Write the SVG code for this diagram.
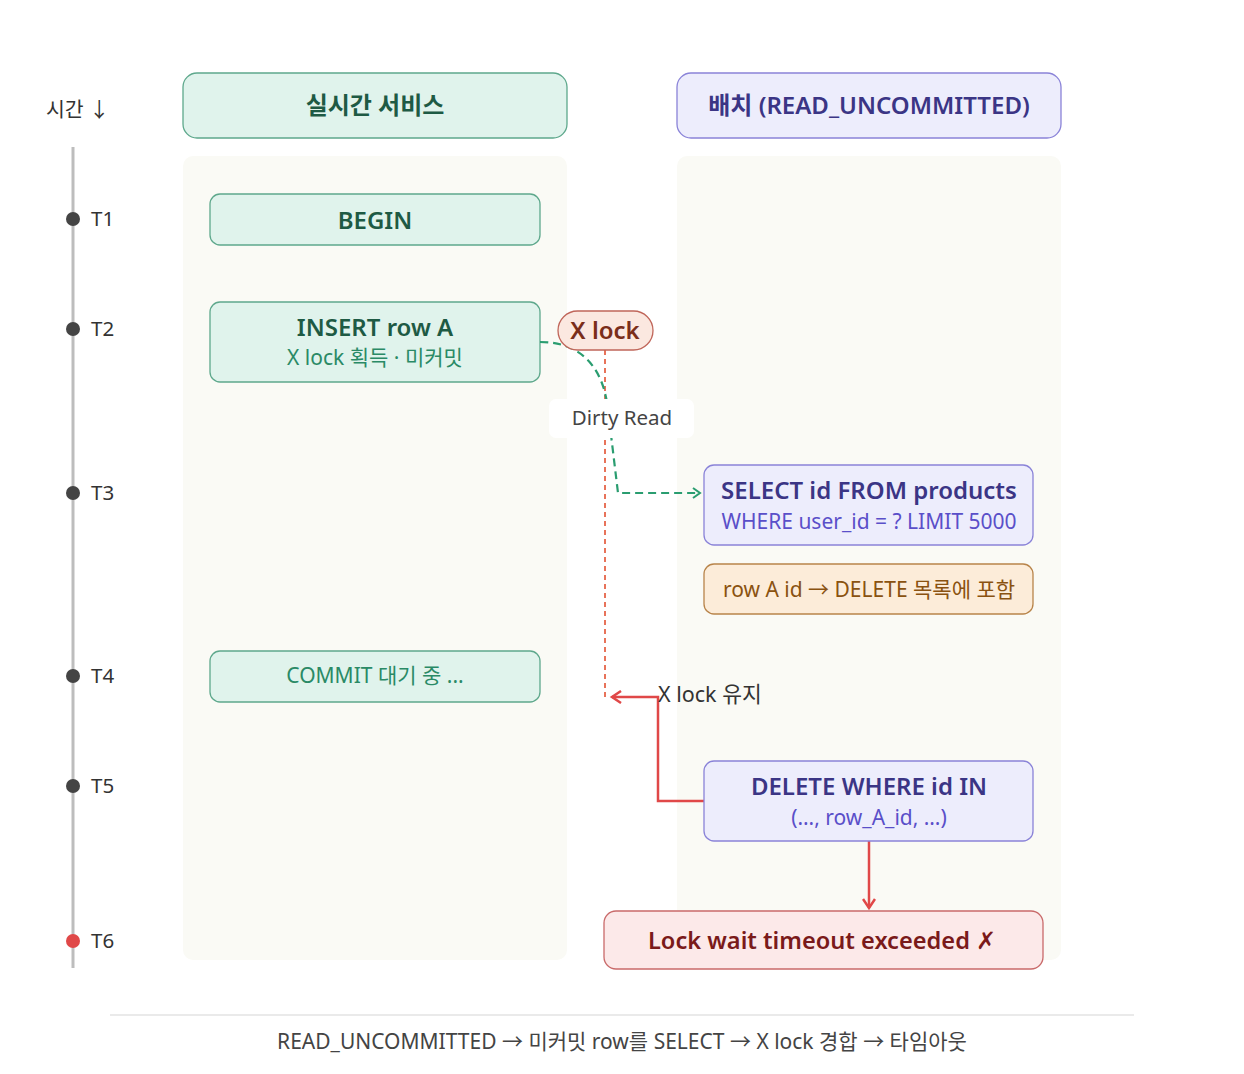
<svg xmlns="http://www.w3.org/2000/svg" width="1244" height="1074" viewBox="0 0 1244 1074">
<style>
text{font-family:"Noto Sans","Noto Sans CJK KR",sans-serif;text-anchor:middle;dominant-baseline:central}
.g{fill:#e0f3ec;stroke:#5ea88c;stroke-width:1.3}
.p{fill:#ededfc;stroke:#8a83d8;stroke-width:1.3}
.gt{fill:#1e5a44;font-weight:600;font-size:24px}
.gs{fill:#2a8a66;font-size:21px}
.pt{fill:#3b3585;font-weight:600;font-size:24px}
.ps{fill:#5a4fc9;font-size:21px}
.lane{fill:#fafaf5}
.tl{fill:#333;font-size:20.5px;text-anchor:start}
.dot{fill:#444}
</style>
<defs>
<marker id="ag" markerWidth="12" markerHeight="12" refX="9" refY="6" orient="auto" markerUnits="userSpaceOnUse"><path d="M2,1 L9,6 L2,11" fill="none" stroke="#2a9d70" stroke-width="2"/></marker>
<marker id="ar" markerWidth="14" markerHeight="14" refX="11" refY="7" orient="auto" markerUnits="userSpaceOnUse"><path d="M2,1 L11,7 L2,13" fill="none" stroke="#e04848" stroke-width="2.5"/></marker>
</defs>
<rect width="1244" height="1074" fill="#fff"/>
<g id="timeline">
<line x1="73" y1="147" x2="73" y2="968" stroke="#bdbdbd" stroke-width="3"/>
<text x="46" y="109" class="tl">시간 ↓</text>
<circle cx="73" cy="219" r="7" class="dot"/><text x="91" y="218" class="tl">T1</text>
<circle cx="73" cy="329" r="7" class="dot"/><text x="91" y="328" class="tl">T2</text>
<circle cx="73" cy="493" r="7" class="dot"/><text x="91" y="492" class="tl">T3</text>
<circle cx="73" cy="676" r="7" class="dot"/><text x="91" y="675" class="tl">T4</text>
<circle cx="73" cy="786" r="7" class="dot"/><text x="91" y="785" class="tl">T5</text>
<circle cx="73" cy="941" r="7" fill="#e04848"/><text x="91" y="940" class="tl">T6</text>
</g>
<g id="lanes">
<rect x="183" y="156" width="384" height="804" rx="10" class="lane"/>
<rect x="677" y="156" width="384" height="804" rx="10" class="lane"/>
</g>
<g id="header-realtime"><rect x="183" y="73" width="384" height="65" rx="14" class="g"/><text x="375" y="104" class="gt">실시간 서비스</text></g>
<g id="header-batch"><rect x="677" y="73" width="384" height="65" rx="14" class="p"/><text x="869" y="104" class="pt">배치 (READ_UNCOMMITTED)</text></g>
<g id="begin"><rect x="210" y="194" width="330" height="51" rx="10" class="g"/><text x="375" y="219" class="gt">BEGIN</text></g>
<g id="insert"><rect x="210" y="302" width="330" height="80" rx="10" class="g"/><text x="375" y="326" class="gt">INSERT row A</text><text x="375" y="357" class="gs">X lock 획득 · 미커밋</text></g>
<g id="commit"><rect x="210" y="651" width="330" height="51" rx="10" class="g"/><text x="375" y="675" class="gs">COMMIT 대기 중 ...</text></g>
<g id="connectors">
<line x1="605" y1="350" x2="605" y2="697" stroke="#e8735a" stroke-width="2" stroke-dasharray="5 4"/>
<path d="M540,342 C585,342 604,372 608,410 L618,493 L700,493" fill="none" stroke="#2a9d70" stroke-width="2.2" stroke-dasharray="8 5" marker-end="url(#ag)"/>
<path d="M704,801 L658,801 L658,697 L612,697" fill="none" stroke="#e04848" stroke-width="2.5" marker-end="url(#ar)"/>
<path d="M869,841 L869,908" fill="none" stroke="#e04848" stroke-width="2.5" marker-end="url(#ar)"/>
<rect x="549" y="399" width="145" height="39" rx="7" fill="#fff"/>
<text x="622" y="417" style="fill:#444;font-size:20.5px">Dirty Read</text>
<text x="658" y="693" class="tl" style="font-size:21.5px">X lock 유지</text>
</g>
<g id="xlock"><rect x="558" y="311" width="95" height="39" rx="19.5" fill="#fbe8e0" stroke="#c0665a" stroke-width="1.3"/><text x="605" y="329" style="fill:#7a2e1a;font-weight:600;font-size:24px">X lock</text></g>
<g id="select"><rect x="704" y="465" width="329" height="80" rx="10" class="p"/><text x="869" y="489" class="pt">SELECT id FROM products</text><text x="869" y="521" class="ps">WHERE user_id = ? LIMIT 5000</text></g>
<g id="rowa"><rect x="704" y="564" width="329" height="50" rx="10" fill="#fcecd9" stroke="#b8844a" stroke-width="1.3"/><text x="869" y="589" style="fill:#8a5210;font-size:21px">row A id → DELETE 목록에 포함</text></g>
<g id="delete"><rect x="704" y="761" width="329" height="80" rx="10" class="p"/><text x="869" y="785" class="pt">DELETE WHERE id IN</text><text x="869" y="817" class="ps">(…, row_A_id, …)</text></g>
<g id="timeout"><rect x="604" y="911" width="439" height="58" rx="12" fill="#fce9e9" stroke="#c96a6a" stroke-width="1.3"/><text x="822" y="940" style="fill:#7a1a1a;font-weight:600;font-size:23.6px">Lock wait timeout exceeded <tspan style="font-weight:400">✗</tspan></text></g>
<g id="footer">
<line x1="110" y1="1015" x2="1134" y2="1015" stroke="#e3e3e3" stroke-width="1.3"/>
<text x="622" y="1041" style="fill:#444;font-size:21px">READ_UNCOMMITTED → 미커밋 row를 SELECT → X lock 경합 → 타임아웃</text>
</g>
</svg>
